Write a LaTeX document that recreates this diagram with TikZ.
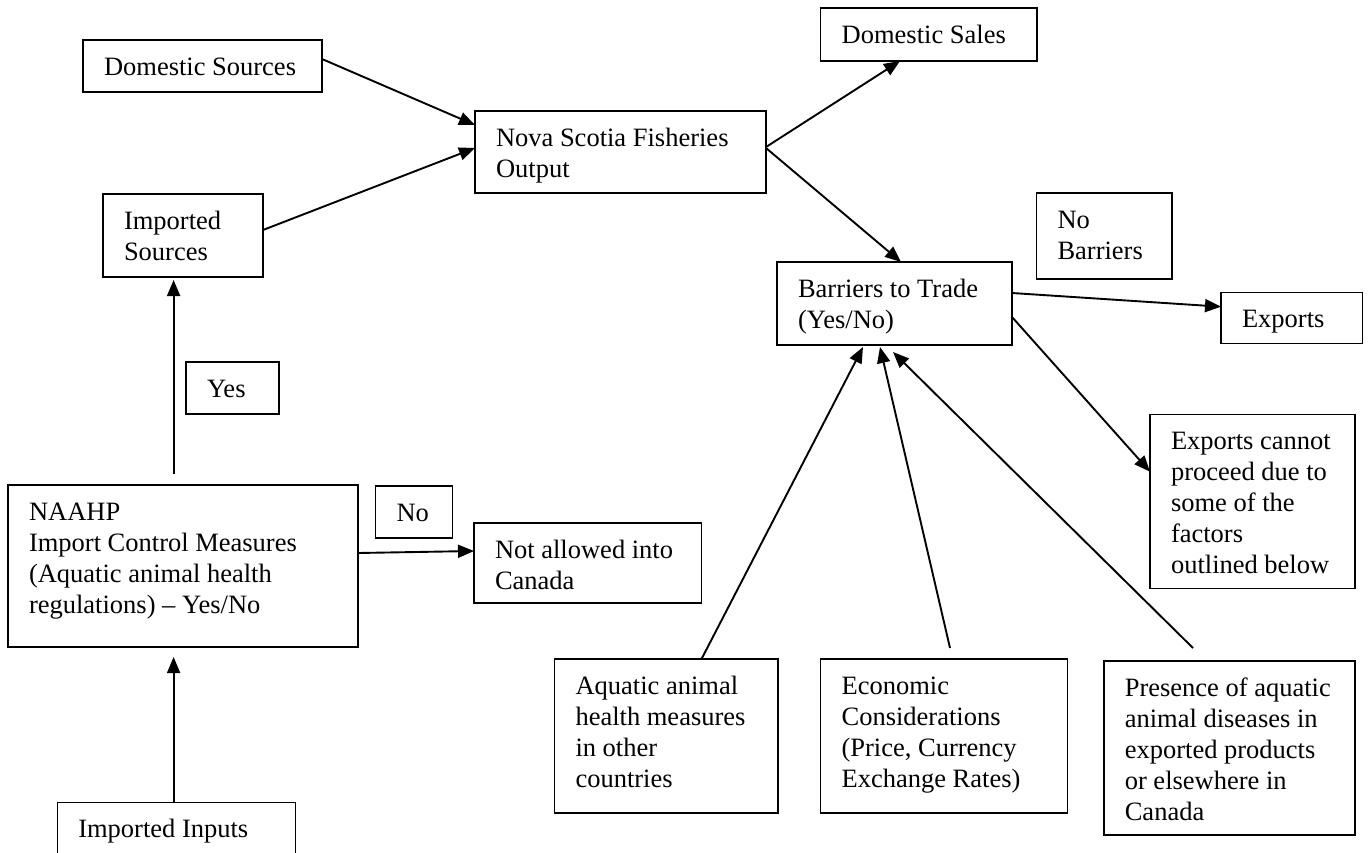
\documentclass[tikz,border=0pt]{standalone}
\usepackage{fontspec}
\setmainfont{Liberation Serif}
\usetikzlibrary{arrows.meta,calc}

% text block inside a fixed-size box: left padding 21pt, first baseline 35pt below the top
\newcommand\boxtext[3]{\vbox to #2{\hsize=#1\relax\parindent=0pt\parskip=0pt
  \leftskip=21pt\rightskip=0pt plus 1fil\parfillskip=0pt plus 1fil
  \vskip 13.3pt\strut #3\par\vfil}}
\newcommand\flowfont{\fontsize{26.5}{31}\selectfont}

\tikzset{
  box/.style={draw, line width=1.4pt, inner sep=0pt, outer sep=0pt, anchor=north west, font=\flowfont},
  conn/.style={line width=1.9pt, -{Triangle[length=16pt,width=13pt]}},
}

\begin{document}
\begin{tikzpicture}[x=1pt, y=-1pt]
\useasboundingbox (0,0) rectangle (1370,852);
\fill[white] (0,0) rectangle (1370,852);
\clip (0,0) rectangle (1370,852);

% boxes
\node[box] (ds)     at (83,40)       {\boxtext{239pt}{52pt}{Domestic Sources}};
\node[box] (is)     at (103,194)     {\boxtext{160pt}{83pt}{Imported\newline Sources}};
\node[box] (nova)   at (475,111)     {\boxtext{291pt}{82pt}{Nova Scotia Fisheries\newline Output}};
\node[box] (dsales) at (820.7,8)     {\boxtext{216.3pt}{53pt}{Domestic Sales}};
\node[box] (bar)    at (777,262)     {\boxtext{235pt}{83pt}{Barriers to Trade\newline (Yes/No)}};
\node[box] (nob)    at (1036.5,193)  {\boxtext{135.5pt}{86pt}{No\newline Barriers}};
\node[box] (exp)    at (1221,292.7)  {\boxtext{141.3pt}{51pt}{Exports}};
\node[box] (yes)    at (186,362)     {\boxtext{93pt}{52pt}{Yes}};
\node[box] (naahp)  at (8,485)       {\boxtext{350pt}{162pt}{NAAHP\newline Import Control Measures\newline (Aquatic animal health\newline regulations) – Yes/No}};
\node[box] (no)     at (375.6,486)   {\boxtext{77pt}{52pt}{No}};
\node[box] (notal)  at (474,523)     {\boxtext{227.6pt}{80pt}{Not allowed into\newline Canada}};
\node[box] (imin)   at (57.3,802.3)  {\boxtext{238.4pt}{90pt}{Imported Inputs}};
\node[box] (aq)     at (554.5,659)   {\boxtext{223.5pt}{154pt}{Aquatic animal\newline health measures\newline in other\newline countries}};
\node[box] (eco)    at (820.6,659)   {\boxtext{247pt}{154pt}{Economic\newline Considerations\newline (Price, Currency\newline Exchange Rates)}};
\node[box] (pres)   at (1103.8,661)  {\boxtext{251pt}{174pt}{Presence of aquatic\newline animal diseases in\newline exported products\newline or elsewhere in\newline Canada}};
\node[box] (expc)   at (1150,414.3)  {\boxtext{205pt}{174pt}{Exports cannot\newline proceed due to\newline some of the\newline factors\newline outlined below}};

% free starting points of connectors
\coordinate (yesfoot) at ($(naahp.north west)+(165.6,-11)$);
\coordinate (ecotop)  at ($(eco.north west)+(129.4,-11)$);
\coordinate (prestop) at ($(pres.north west)+(89.2,-13)$);

% connectors
\draw[conn] ($(ds.north east)+(0,19)$)    -- ($(nova.north west)+(0,14)$);
\draw[conn] ($(is.north east)+(0,36)$)    -- ($(nova.north west)+(0,37)$);
\draw[conn] ($(nova.north east)+(0,36)$)  -- ($(dsales.south west)+(79.3,0)$);
\draw[conn] ($(nova.north east)+(0,37)$)  -- ($(bar.north west)+(124,0)$);
\draw[conn] ($(bar.north east)+(0,31)$)   -- ($(exp.north west)+(0,14)$);
\draw[conn] ($(bar.north east)+(0,55)$)   -- ($(expc.north west)+(0,57.4)$);
\draw[conn] ($(naahp.north east)+(0,68)$) -- ($(notal.north west)+(0,28)$);
\draw[conn] (yesfoot) -- ($(is.south west)+(70.6,3)$);
\draw[conn] ($(imin.north west)+(116.3,0)$) -- ($(naahp.south west)+(165.6,10)$);
\draw[conn] ($(aq.north west)+(147,0)$) -- ($(bar.south west)+(86,2)$);
\draw[conn] (ecotop)  -- ($(bar.south west)+(103,2)$);
\draw[conn] (prestop) -- ($(bar.south west)+(116,7)$);
\end{tikzpicture}
\end{document}
